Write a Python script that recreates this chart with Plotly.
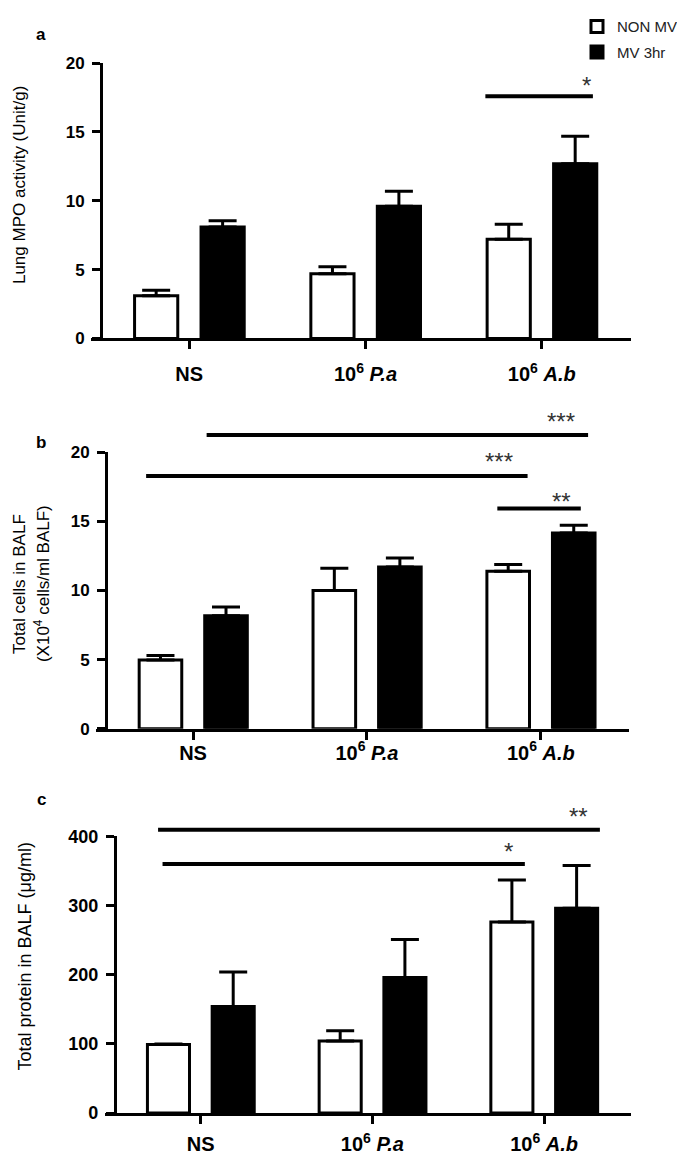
import plotly.graph_objects as go

# ---------------- data ----------------
groups = ["NS", "10<sup>6</sup> <i>P.a</i>", "10<sup>6</sup> <i>A.b</i>"]
series_names = ["NON MV", "MV 3hr"]

mpo_non = [3.1, 4.7, 7.2]
mpo_non_err = [0.4, 0.5, 1.1]
mpo_mv = [8.1, 9.6, 12.7]
mpo_mv_err = [0.45, 1.1, 2.0]

cells_non = [4.97, 10.0, 11.38]
cells_non_err = [0.33, 1.6, 0.5]
cells_mv = [8.17, 11.7, 14.15]
cells_mv_err = [0.63, 0.65, 0.57]

prot_non = [99, 104, 276]
prot_non_err = [1, 15, 61]
prot_mv = [154, 196, 296]
prot_mv_err = [50, 55, 62]

# significance brackets: (x start, x end, y, label, label x, label y)
sig_a = [(1.68, 2.29, 17.6, "*", 2.256, 18.4)]
sig_b = [(0.078, 2.272, 21.24, "***", 2.119, 22.2),
         (-0.27, 1.924, 18.27, "***", 1.758, 19.3),
         (1.75, 2.23, 15.93, "**", 2.119, 16.4)]
sig_c = [(-0.248, 2.325, 409.5, "**", 2.198, 428),
         (-0.222, 1.888, 360, "*", 1.79, 378)]

# ---------------- layout helpers ----------------
W, H = 685, 1159
def xd(a, b):
    return [a / W, b / W]
def yd(top, bottom):
    return [1 - bottom / H, 1 - top / H]

XR = [-0.56, 2.505]
YAXIS_AT = -0.5

panels = [
    dict(non=mpo_non, non_e=mpo_non_err, mv=mpo_mv, mv_e=mpo_mv_err,
         xdom=xd(82.5, 622.8), ydom=yd(46, 326), yr=[0, 20], dtick=5,
         sig=sig_a, tfs=17, standoff=8, label="a", label_y=17,
         title=["Lung MPO activity (Unit/g)"], title_x=[11], title_y=170),
    dict(non=cells_non, non_e=cells_non_err, mv=cells_mv, mv_e=cells_mv_err,
         xdom=xd(87.7, 620.6), ydom=yd(441.7, 723.3), yr=[0, 20], dtick=5,
         sig=sig_b, tfs=17, standoff=-4, label="b", label_y=432,
         title=["Total cells in BALF", "(X10<sup>4</sup> cells/ml BALF)"],
         title_x=[11, 34], title_y=576),
    dict(non=prot_non, non_e=prot_non_err, mv=prot_mv, mv_e=prot_mv_err,
         xdom=xd(96.5, 622.8), ydom=yd(832.7, 1114.3), yr=[0, 400], dtick=100,
         sig=sig_c, tfs=18, standoff=3, label="c", label_y=795,
         title=["Total protein in BALF (\u03bcg/ml)"], title_x=[17], title_y=955),
]

FONT = "Liberation Sans, Arial, sans-serif"
NARROW = "Liberation Sans Narrow, Arial Narrow, Liberation Sans, Arial, sans-serif"

fig = go.Figure()
layout = dict(
    width=W, height=H, autosize=False,
    margin=dict(l=0, r=0, t=0, b=0),
    paper_bgcolor="white", plot_bgcolor="white",
    barmode="overlay", showlegend=True,
    font=dict(family=FONT, color="black"),
    legend=dict(x=569 / W, y=1 + 8 / H, xanchor="left", yanchor="top",
                font=dict(family=FONT, size=15, color="#222"),
                bgcolor="rgba(0,0,0,0)", tracegroupgap=3),
)
shapes = []
annotations = []

for i, p in enumerate(panels):
    n = "" if i == 0 else str(i + 1)
    xa, ya = "x" + n, "y" + n
    cats = list(range(len(groups)))
    fig.add_trace(go.Bar(
        x=cats, y=p["non"], name=series_names[0], xaxis=xa, yaxis=ya,
        width=0.245, offset=-0.31,
        marker=dict(color="white", line=dict(color="black", width=3)),
        error_y=dict(type="data", array=p["non_e"], arrayminus=[0] * 3,
                     symmetric=False, color="black", thickness=3, width=14),
        showlegend=(i == 0), legendgroup="non",
    ))
    fig.add_trace(go.Bar(
        x=cats, y=p["mv"], name=series_names[1], xaxis=xa, yaxis=ya,
        width=0.245, offset=0.067,
        marker=dict(color="black", line=dict(color="black", width=3)),
        error_y=dict(type="data", array=p["mv_e"], arrayminus=[0] * 3,
                     symmetric=False, color="black", thickness=3, width=14),
        showlegend=(i == 0), legendgroup="mv",
    ))
    ypos = p["xdom"][0] + (YAXIS_AT - XR[0]) / (XR[1] - XR[0]) * (p["xdom"][1] - p["xdom"][0])
    layout["xaxis" + n] = dict(
        domain=p["xdom"], range=XR, anchor=ya,
        showline=True, linewidth=3, linecolor="black",
        ticks="outside", ticklen=8, tickwidth=3, tickcolor="black",
        tickvals=cats, ticktext=["<b>%s</b>" % g for g in groups],
        tickfont=dict(family=FONT, size=20, color="black"),
        ticklabelstandoff=p["standoff"],
        showgrid=False, zeroline=False, fixedrange=True,
    )
    layout["yaxis" + n] = dict(
        domain=p["ydom"], range=p["yr"], anchor="free", position=ypos,
        showline=True, linewidth=3, linecolor="black",
        ticks="outside", ticklen=8, tickwidth=3, tickcolor="black",
        dtick=p["dtick"], tick0=0,
        tickfont=dict(family=FONT, size=p["tfs"], color="black", weight="bold"),
        ticklabelstandoff=4,
        showgrid=False, zeroline=False, fixedrange=True,
    )
    ymax = p["yr"][1]
    for (x0, x1, yv, lab, lx, ly) in p["sig"]:
        shapes.append(dict(type="line", xref=xa, yref=ya + " domain",
                           x0=x0, x1=x1, y0=yv / ymax, y1=yv / ymax,
                           line=dict(color="black", width=4)))
        annotations.append(dict(xref=xa, yref=ya + " domain", x=lx, y=ly / ymax, text=lab,
                                showarrow=False, font=dict(family=FONT, size=24, color="#333"),
                                xanchor="center", yanchor="middle"))
    annotations.append(dict(xref="paper", yref="paper", x=33 / W, y=1 - p["label_y"] / H,
                            text="<b>%s</b>" % p["label"], showarrow=False,
                            font=dict(family=FONT, size=17, color="black"),
                            xanchor="center", yanchor="middle"))
    for t, tx in zip(p["title"], p["title_x"]):
        annotations.append(dict(xref="paper", yref="paper", x=tx / W, y=1 - p["title_y"] / H,
                                text=t, textangle=-90, showarrow=False,
                                font=dict(family=FONT if i < 2 else NARROW, size=17 if i < 2 else 18,
                                          color="black"),
                                xanchor="center", yanchor="middle"))

layout["shapes"] = shapes
layout["annotations"] = annotations
fig.update_layout(**layout)
fig.write_html("out.html")
